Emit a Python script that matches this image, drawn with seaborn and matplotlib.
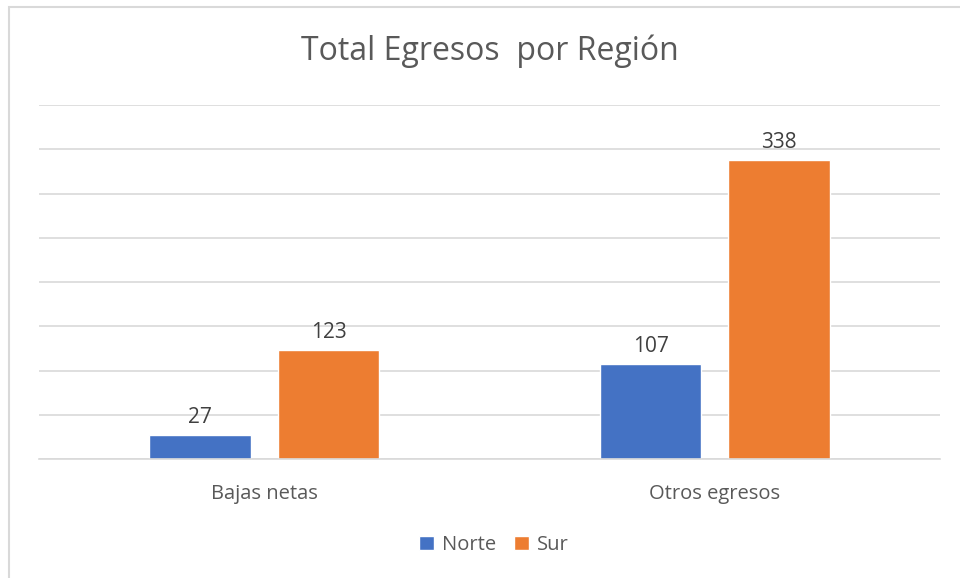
import matplotlib
matplotlib.use("Agg")
import matplotlib.pyplot as plt
from matplotlib.patches import Rectangle
import seaborn as sns
import pandas as pd

categories = ["Bajas netas", "Otros egresos"]
series = ["Norte", "Sur"]
norte = [27, 107]
sur = [123, 338]
colors = ["#4472C4", "#ED7D31"]
title = "Total Egresos  por Región"

df = pd.DataFrame({
    "cat": categories * 2,
    "serie": [series[0]] * 2 + [series[1]] * 2,
    "val": norte + sur,
})

sns.set_theme(style="white")
plt.rcParams["font.family"] = ["Open Sans", "DejaVu Sans"]
txt = "#595959"
grid = "#D9D9D9"

fig = plt.figure(figsize=(9.6, 5.78), dpi=100)
fig.patch.set_facecolor("white")
W, H = 960, 578
fig.patches.append(Rectangle((9 / W, -0.1), 1.2, 1.1 - 7 / H + 0.0,
                             transform=fig.transFigure, fill=False,
                             edgecolor=grid, linewidth=1.5))
ax = fig.add_axes([39 / W, (H - 459) / H, (940 - 39) / W, (459 - 105) / H])
sns.barplot(data=df, x="cat", y="val", hue="serie", order=categories,
            hue_order=series, palette=colors, width=0.57, gap=0.21,
            saturation=1, ax=ax, legend=True, errorbar=None)
ax.set_ylim(0, 400)
ax.set_xlim(-0.5, 1.5)
ax.set_yticks(range(0, 401, 50))
ax.yaxis.grid(True, color=grid, linewidth=1.2)
ax.set_axisbelow(True)
ax.tick_params(axis="y", left=False, labelleft=False)
ax.tick_params(axis="x", bottom=False, colors=txt, labelsize=14.5, pad=12)
for s in ["top", "right", "left"]:
    ax.spines[s].set_visible(False)
ax.spines["bottom"].set_color(grid)
ax.spines["bottom"].set_linewidth(1.2)
ax.set_xlabel("")
ax.set_ylabel("")
for c in ax.containers:
    ax.bar_label(c, fmt="%d", padding=5, color="#404040", fontsize=15)
fig.text(490 / W, 1 - 51 / H, title, ha="center", va="center",
         fontsize=23, color=txt)
leg = ax.legend(loc="center", bbox_to_anchor=(494 / W, 1 - 545 / H),
                bbox_transform=fig.transFigure, ncol=2, frameon=False,
                fontsize=14.5, handlelength=0.75, handleheight=0.75,
                handletextpad=0.4, columnspacing=0.9)
for t in leg.get_texts():
    t.set_color(txt)
fig.savefig("out.png", dpi=100, facecolor="white")
